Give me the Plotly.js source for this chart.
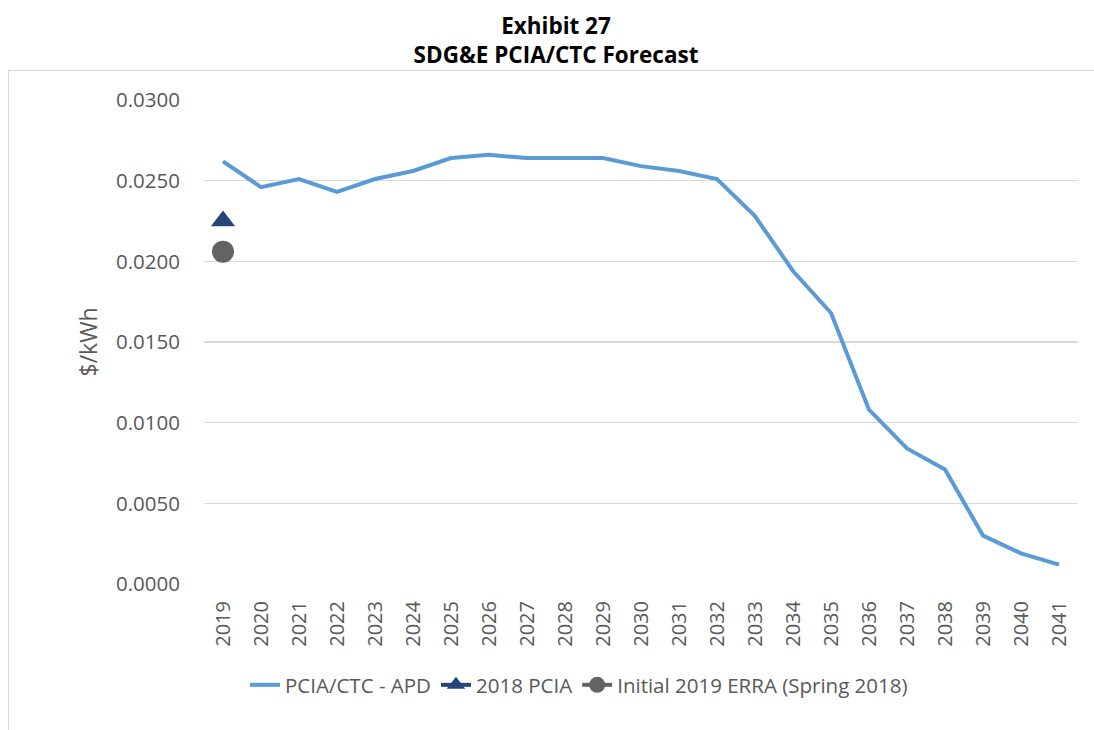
<!DOCTYPE html>
<html>
<head>
<meta charset="utf-8">
<script src="https://cdn.plot.ly/plotly-3.0.1.min.js"></script>
<style>
  html, body { margin: 0; padding: 0; background: #ffffff; }
  #wrap { position: relative; width: 1094px; height: 730px; overflow: hidden; }
  #frame { position: absolute; left: 8px; top: 70px; width: 1200px; height: 700px;
           border: 1.5px solid #d9d9d9; box-sizing: border-box; }
  #chart { position: absolute; left: 0; top: 0; width: 1094px; height: 730px; }
</style>
</head>
<body>
<div id="wrap">
  <div id="frame"></div>
  <div id="chart"></div>
</div>
<script>
const years = ['2019','2020','2021','2022','2023','2024','2025','2026','2027','2028','2029','2030',
               '2031','2032','2033','2034','2035','2036','2037','2038','2039','2040','2041'];
const pciaApd = [0.0262, 0.0246, 0.0251, 0.0243, 0.0251, 0.0256, 0.0264, 0.0266, 0.0264, 0.0264, 0.0264, 0.0259,
                 0.0256, 0.0251, 0.0228, 0.0194, 0.0168, 0.0108, 0.0084, 0.0071, 0.0030, 0.0019, 0.0012];
const pcia2018Years = ['2019'];
const pcia2018 = [0.0225];
const erraYears = ['2019'];
const erra2019 = [0.0206];
const yTicks = [0, 0.005, 0.01, 0.015, 0.02, 0.025, 0.03];
const yTickLabels = ['0.0000','0.0050','0.0100','0.0150','0.0200','0.0250','0.0300'];

const traces = [
  { x: years, y: pciaApd, name: 'PCIA/CTC - APD', type: 'scatter', mode: 'lines',
    line: { color: '#5b9bd5', width: 4 } },
  { x: pcia2018Years, y: pcia2018, name: '2018 PCIA', type: 'scatter', mode: 'lines+markers',
    line: { color: '#264478', width: 4 },
    marker: { symbol: 'triangle-up', size: 21, color: '#264478' } },
  { x: erraYears, y: erra2019, name: 'Initial 2019 ERRA (Spring 2018)', type: 'scatter', mode: 'lines+markers',
    line: { color: '#636363', width: 4 },
    marker: { symbol: 'circle', size: 22, color: '#636363' } }
];

const layout = {
  width: 1094, height: 730,
  paper_bgcolor: 'rgba(0,0,0,0)', plot_bgcolor: 'rgba(0,0,0,0)',
  margin: { l: 204, r: 16, t: 100, b: 146 },
  font: { family: 'Open Sans, sans-serif', color: '#595959', size: 20 },
  title: { text: '<b>Exhibit 27</b><br><b>SDG&E PCIA/CTC Forecast</b>',
           font: { family: 'Open Sans, sans-serif', size: 22.5, color: '#000000' },
           x: 556 / 1094, xanchor: 'center', xref: 'container',
           y: 1 - 34 / 730, yanchor: 'top', yref: 'container' },
  showlegend: true,
  legend: { orientation: 'h', x: 579 / 1094, xref: 'container', xanchor: 'center', y: 1 - 685 / 730, yref: 'container', yanchor: 'middle',
            font: { size: 20.5, color: '#595959' }, itemwidth: 30, traceorder: 'normal' },
  xaxis: { type: 'category', range: [-0.5, 22.5], tickangle: -90, showgrid: false, showline: false, zeroline: false,
           ticks: '', ticklabelstandoff: 12, tickfont: { size: 20, color: '#595959' } },
  yaxis: { range: [0, 0.03], tickvals: yTicks, ticktext: yTickLabels, showgrid: true,
           gridcolor: '#d9d9d9', gridwidth: 1.5, zeroline: false, showline: false, ticks: '',
           ticklabelstandoff: 23, tickfont: { size: 20.5, color: '#595959' },
           title: { text: '$/kWh', font: { size: 23, color: '#595959' }, standoff: 11 } },
  hovermode: false
};

Plotly.newPlot('chart', traces, layout, { displayModeBar: false, staticPlot: true });
</script>
</body>
</html>
